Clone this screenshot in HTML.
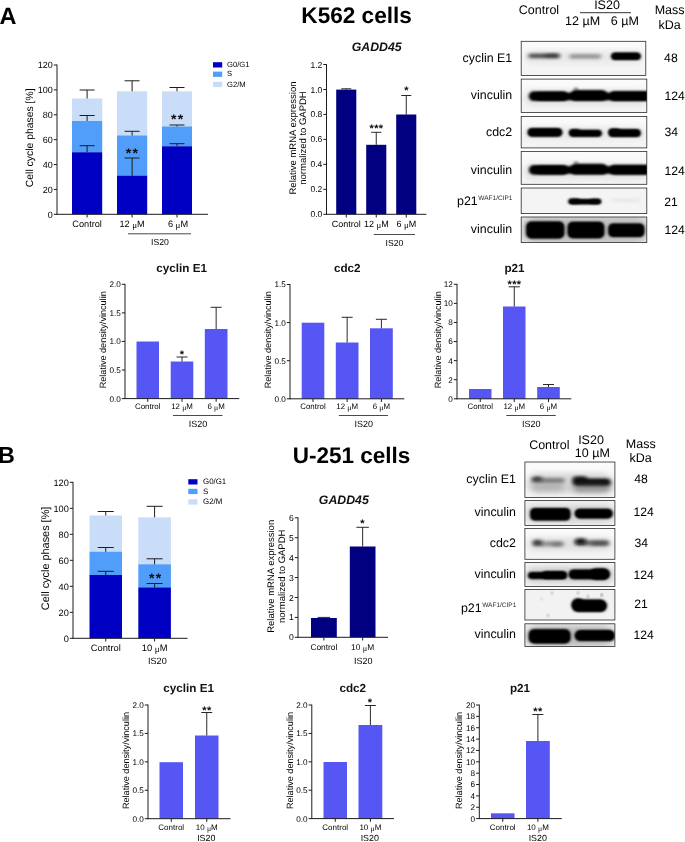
<!DOCTYPE html>
<html lang="en">
<head>
<meta charset="utf-8">
<title>IS20 cell cycle figure</title>
<style>html,body{margin:0;padding:0;background:#fff;overflow:hidden}svg{display:block;filter:blur(0.4px)}</style>
</head>
<body>
<svg width="685" height="842" viewBox="0 0 685 842" text-rendering="geometricPrecision" font-family='"Liberation Sans", Arial, sans-serif'>
<rect width="685" height="842" fill="#ffffff"/>
<defs>
<filter id="b1" x="-30%" y="-150%" width="160%" height="400%"><feGaussianBlur stdDeviation="1.6 1.3"/></filter>
<filter id="b2" x="-30%" y="-150%" width="160%" height="400%"><feGaussianBlur stdDeviation="2.2 1.7"/></filter>
<filter id="b3" x="-30%" y="-150%" width="160%" height="400%"><feGaussianBlur stdDeviation="3 2.6"/></filter>
<filter id="b0" x="-30%" y="-150%" width="160%" height="400%"><feGaussianBlur stdDeviation="1.1 0.9"/></filter>
<linearGradient id="bg" x1="0" y1="0" x2="0" y2="1"><stop offset="0" stop-color="#fbfbfb"/><stop offset="1" stop-color="#f3f3f3"/></linearGradient>
</defs>
<text x="-0.40" y="23.81" font-size="23.5" text-anchor="start" font-weight="bold" font-style="normal" fill="#000">A</text>
<text x="-2.00" y="463.24" font-size="23.3" text-anchor="start" font-weight="bold" font-style="normal" fill="#000">B</text>
<text x="356.60" y="23.19" font-size="22.6" text-anchor="middle" font-weight="bold" font-style="normal" fill="#000">K562 cells</text>
<text x="351.50" y="462.66" font-size="22.5" text-anchor="middle" font-weight="bold" font-style="normal" fill="#000">U-251 cells</text>
<rect x="72.00" y="98.50" width="30.20" height="22.80" fill="#c9ddf8"/>
<rect x="72.00" y="121.00" width="30.20" height="31.60" fill="#509dfa"/>
<rect x="72.00" y="152.30" width="30.20" height="62.00" fill="#0000c2"/>
<line x1="87.10" y1="152.30" x2="87.10" y2="145.70" stroke="#1c1c1c" stroke-width="1.0"/>
<line x1="79.60" y1="145.70" x2="94.60" y2="145.70" stroke="#1c1c1c" stroke-width="1.0"/>
<line x1="87.10" y1="121.00" x2="87.10" y2="115.50" stroke="#1c1c1c" stroke-width="1.0"/>
<line x1="79.60" y1="115.50" x2="94.60" y2="115.50" stroke="#1c1c1c" stroke-width="1.0"/>
<line x1="87.10" y1="98.50" x2="87.10" y2="90.00" stroke="#1c1c1c" stroke-width="1.0"/>
<line x1="79.60" y1="90.00" x2="94.60" y2="90.00" stroke="#1c1c1c" stroke-width="1.0"/>
<rect x="117.00" y="91.30" width="30.20" height="44.50" fill="#c9ddf8"/>
<rect x="117.00" y="135.50" width="30.20" height="40.60" fill="#509dfa"/>
<rect x="117.00" y="175.80" width="30.20" height="38.50" fill="#0000c2"/>
<line x1="132.10" y1="175.80" x2="132.10" y2="158.00" stroke="#1c1c1c" stroke-width="1.0"/>
<line x1="124.60" y1="158.00" x2="139.60" y2="158.00" stroke="#1c1c1c" stroke-width="1.0"/>
<line x1="132.10" y1="135.50" x2="132.10" y2="131.30" stroke="#1c1c1c" stroke-width="1.0"/>
<line x1="124.60" y1="131.30" x2="139.60" y2="131.30" stroke="#1c1c1c" stroke-width="1.0"/>
<line x1="132.10" y1="91.30" x2="132.10" y2="80.80" stroke="#1c1c1c" stroke-width="1.0"/>
<line x1="124.60" y1="80.80" x2="139.60" y2="80.80" stroke="#1c1c1c" stroke-width="1.0"/>
<rect x="162.00" y="91.30" width="30.00" height="35.50" fill="#c9ddf8"/>
<rect x="162.00" y="126.50" width="30.00" height="20.10" fill="#509dfa"/>
<rect x="162.00" y="146.30" width="30.00" height="68.00" fill="#0000c2"/>
<line x1="177.00" y1="146.30" x2="177.00" y2="143.70" stroke="#1c1c1c" stroke-width="1.0"/>
<line x1="169.50" y1="143.70" x2="184.50" y2="143.70" stroke="#1c1c1c" stroke-width="1.0"/>
<line x1="177.00" y1="126.50" x2="177.00" y2="125.00" stroke="#1c1c1c" stroke-width="1.0"/>
<line x1="169.50" y1="125.00" x2="184.50" y2="125.00" stroke="#1c1c1c" stroke-width="1.0"/>
<line x1="177.00" y1="91.30" x2="177.00" y2="87.50" stroke="#1c1c1c" stroke-width="1.0"/>
<line x1="169.50" y1="87.50" x2="184.50" y2="87.50" stroke="#1c1c1c" stroke-width="1.0"/>
<line x1="57.00" y1="64.60" x2="57.00" y2="214.70" stroke="#1c1c1c" stroke-width="1.0"/>
<line x1="56.60" y1="214.30" x2="208.00" y2="214.30" stroke="#1c1c1c" stroke-width="1.0"/>
<line x1="53.80" y1="214.30" x2="57.00" y2="214.30" stroke="#1c1c1c" stroke-width="1.0"/>
<text x="52.80" y="217.52" font-size="9.0" text-anchor="end" font-weight="normal" font-style="normal" fill="#000">0</text>
<line x1="53.80" y1="189.42" x2="57.00" y2="189.42" stroke="#1c1c1c" stroke-width="1.0"/>
<text x="52.80" y="192.64" font-size="9.0" text-anchor="end" font-weight="normal" font-style="normal" fill="#000">20</text>
<line x1="53.80" y1="164.53" x2="57.00" y2="164.53" stroke="#1c1c1c" stroke-width="1.0"/>
<text x="52.80" y="167.76" font-size="9.0" text-anchor="end" font-weight="normal" font-style="normal" fill="#000">40</text>
<line x1="53.80" y1="139.65" x2="57.00" y2="139.65" stroke="#1c1c1c" stroke-width="1.0"/>
<text x="52.80" y="142.87" font-size="9.0" text-anchor="end" font-weight="normal" font-style="normal" fill="#000">60</text>
<line x1="53.80" y1="114.77" x2="57.00" y2="114.77" stroke="#1c1c1c" stroke-width="1.0"/>
<text x="52.80" y="117.99" font-size="9.0" text-anchor="end" font-weight="normal" font-style="normal" fill="#000">80</text>
<line x1="53.80" y1="89.88" x2="57.00" y2="89.88" stroke="#1c1c1c" stroke-width="1.0"/>
<text x="52.80" y="93.11" font-size="9.0" text-anchor="end" font-weight="normal" font-style="normal" fill="#000">100</text>
<line x1="53.80" y1="65.00" x2="57.00" y2="65.00" stroke="#1c1c1c" stroke-width="1.0"/>
<text x="52.80" y="68.22" font-size="9.0" text-anchor="end" font-weight="normal" font-style="normal" fill="#000">120</text>
<line x1="87.10" y1="214.30" x2="87.10" y2="217.50" stroke="#1c1c1c" stroke-width="1.0"/>
<line x1="132.10" y1="214.30" x2="132.10" y2="217.50" stroke="#1c1c1c" stroke-width="1.0"/>
<line x1="177.00" y1="214.30" x2="177.00" y2="217.50" stroke="#1c1c1c" stroke-width="1.0"/>
<text transform="translate(29.40,137.80) rotate(-90)" x="0" y="3.72" font-size="10.4" text-anchor="middle" font-weight="normal" font-style="normal" fill="#000">Cell cycle phases [%]</text>
<text x="87.10" y="227.09" font-size="9.2" text-anchor="middle" font-weight="normal" font-style="normal" fill="#000">Control</text>
<text x="132.10" y="227.09" font-size="9.2" text-anchor="middle" font-weight="normal" font-style="normal" fill="#000">12 <tspan font-family='"Liberation Serif", "DejaVu Serif", serif' font-size="0.98em" dy="0.9">μ</tspan><tspan dy="-0.9">M</tspan></text>
<text x="178.00" y="227.09" font-size="9.2" text-anchor="middle" font-weight="normal" font-style="normal" fill="#000">6 <tspan font-family='"Liberation Serif", "DejaVu Serif", serif' font-size="0.98em" dy="0.9">μ</tspan><tspan dy="-0.9">M</tspan></text>
<line x1="128.00" y1="233.80" x2="191.00" y2="233.80" stroke="#1c1c1c" stroke-width="0.8"/>
<text x="160.00" y="245.11" font-size="8.7" text-anchor="middle" font-weight="normal" font-style="normal" fill="#000">IS20</text>
<text x="132.45" y="158.39" font-size="14" letter-spacing="1.3" text-anchor="middle" font-weight="bold" fill="#0a0a0a">**</text>
<text x="177.65" y="124.19" font-size="14" letter-spacing="1.3" text-anchor="middle" font-weight="bold" fill="#0a0a0a">**</text>
<rect x="213.00" y="62.20" width="9.20" height="5.30" fill="#0000c2"/>
<text x="227.00" y="66.97" font-size="7.6" text-anchor="start" font-weight="normal" font-style="normal" fill="#000">G0/G1</text>
<rect x="213.00" y="71.60" width="9.20" height="5.30" fill="#509dfa"/>
<text x="227.00" y="76.37" font-size="7.6" text-anchor="start" font-weight="normal" font-style="normal" fill="#000">S</text>
<rect x="213.00" y="81.80" width="9.20" height="5.30" fill="#c9ddf8"/>
<text x="227.00" y="86.57" font-size="7.6" text-anchor="start" font-weight="normal" font-style="normal" fill="#000">G2/M</text>
<rect x="336.20" y="89.60" width="20.10" height="124.70" fill="#000080"/>
<line x1="346.25" y1="89.60" x2="346.25" y2="88.80" stroke="#1e1e1e" stroke-width="0.95"/>
<line x1="341.25" y1="88.80" x2="351.25" y2="88.80" stroke="#1e1e1e" stroke-width="0.95"/>
<rect x="366.20" y="144.80" width="20.10" height="69.50" fill="#000080"/>
<line x1="376.25" y1="144.80" x2="376.25" y2="132.30" stroke="#1e1e1e" stroke-width="0.95"/>
<line x1="371.25" y1="132.30" x2="381.25" y2="132.30" stroke="#1e1e1e" stroke-width="0.95"/>
<rect x="396.20" y="114.50" width="20.10" height="99.80" fill="#000080"/>
<line x1="406.25" y1="114.50" x2="406.25" y2="95.50" stroke="#1e1e1e" stroke-width="0.95"/>
<line x1="401.25" y1="95.50" x2="411.25" y2="95.50" stroke="#1e1e1e" stroke-width="0.95"/>
<line x1="326.50" y1="64.10" x2="326.50" y2="214.70" stroke="#1c1c1c" stroke-width="1.0"/>
<line x1="326.10" y1="214.30" x2="426.30" y2="214.30" stroke="#1c1c1c" stroke-width="1.0"/>
<line x1="323.30" y1="214.30" x2="326.50" y2="214.30" stroke="#1c1c1c" stroke-width="1.0"/>
<text x="322.30" y="217.34" font-size="8.5" text-anchor="end" font-weight="normal" font-style="normal" fill="#000">0.0</text>
<line x1="323.30" y1="189.33" x2="326.50" y2="189.33" stroke="#1c1c1c" stroke-width="1.0"/>
<text x="322.30" y="192.38" font-size="8.5" text-anchor="end" font-weight="normal" font-style="normal" fill="#000">0.2</text>
<line x1="323.30" y1="164.37" x2="326.50" y2="164.37" stroke="#1c1c1c" stroke-width="1.0"/>
<text x="322.30" y="167.41" font-size="8.5" text-anchor="end" font-weight="normal" font-style="normal" fill="#000">0.4</text>
<line x1="323.30" y1="139.40" x2="326.50" y2="139.40" stroke="#1c1c1c" stroke-width="1.0"/>
<text x="322.30" y="142.44" font-size="8.5" text-anchor="end" font-weight="normal" font-style="normal" fill="#000">0.6</text>
<line x1="323.30" y1="114.43" x2="326.50" y2="114.43" stroke="#1c1c1c" stroke-width="1.0"/>
<text x="322.30" y="117.48" font-size="8.5" text-anchor="end" font-weight="normal" font-style="normal" fill="#000">0.8</text>
<line x1="323.30" y1="89.47" x2="326.50" y2="89.47" stroke="#1c1c1c" stroke-width="1.0"/>
<text x="322.30" y="92.51" font-size="8.5" text-anchor="end" font-weight="normal" font-style="normal" fill="#000">1.0</text>
<line x1="323.30" y1="64.50" x2="326.50" y2="64.50" stroke="#1c1c1c" stroke-width="1.0"/>
<text x="322.30" y="67.54" font-size="8.5" text-anchor="end" font-weight="normal" font-style="normal" fill="#000">1.2</text>
<line x1="346.25" y1="214.30" x2="346.25" y2="217.50" stroke="#1c1c1c" stroke-width="1.0"/>
<line x1="376.25" y1="214.30" x2="376.25" y2="217.50" stroke="#1c1c1c" stroke-width="1.0"/>
<line x1="406.25" y1="214.30" x2="406.25" y2="217.50" stroke="#1c1c1c" stroke-width="1.0"/>
<text x="376.70" y="51.40" font-size="12.3" text-anchor="middle" font-weight="bold" font-style="italic" fill="#111">GADD45</text>
<text transform="translate(292.30,138.00) rotate(-90)" x="0" y="3.40" font-size="9.5" text-anchor="middle" font-weight="normal" font-style="normal" fill="#000">Relative mRNA expression</text>
<text transform="translate(303.00,138.00) rotate(-90)" x="0" y="3.40" font-size="9.5" text-anchor="middle" font-weight="normal" font-style="normal" fill="#000">normalized to GAPDH</text>
<text x="346.25" y="227.02" font-size="9" text-anchor="middle" font-weight="normal" font-style="normal" fill="#000">Control</text>
<text x="376.25" y="227.02" font-size="9" text-anchor="middle" font-weight="normal" font-style="normal" fill="#000">12 <tspan font-family='"Liberation Serif", "DejaVu Serif", serif' font-size="0.98em" dy="0.9">μ</tspan><tspan dy="-0.9">M</tspan></text>
<text x="406.25" y="227.02" font-size="9" text-anchor="middle" font-weight="normal" font-style="normal" fill="#000">6 <tspan font-family='"Liberation Serif", "DejaVu Serif", serif' font-size="0.98em" dy="0.9">μ</tspan><tspan dy="-0.9">M</tspan></text>
<line x1="373.80" y1="234.50" x2="415.00" y2="234.50" stroke="#1c1c1c" stroke-width="0.8"/>
<text x="394.50" y="245.61" font-size="8.7" text-anchor="middle" font-weight="normal" font-style="normal" fill="#000">IS20</text>
<text x="376.50" y="131.84" font-size="11" letter-spacing="0.4" text-anchor="middle" font-weight="bold" fill="#0a0a0a">***</text>
<text x="406.30" y="94.03" font-size="11" letter-spacing="0" text-anchor="middle" font-weight="bold" fill="#0a0a0a">*</text>
<rect x="136.50" y="341.50" width="22.50" height="57.10" fill="#5656f4"/>
<rect x="170.70" y="361.50" width="22.60" height="37.10" fill="#5656f4"/>
<line x1="182.00" y1="361.50" x2="182.00" y2="357.00" stroke="#1e1e1e" stroke-width="0.95"/>
<line x1="176.50" y1="357.00" x2="187.50" y2="357.00" stroke="#1e1e1e" stroke-width="0.95"/>
<rect x="204.80" y="329.00" width="22.70" height="69.60" fill="#5656f4"/>
<line x1="216.15" y1="329.00" x2="216.15" y2="307.30" stroke="#1e1e1e" stroke-width="0.95"/>
<line x1="210.65" y1="307.30" x2="221.65" y2="307.30" stroke="#1e1e1e" stroke-width="0.95"/>
<line x1="125.00" y1="283.90" x2="125.00" y2="399.00" stroke="#1c1c1c" stroke-width="1.0"/>
<line x1="124.60" y1="398.60" x2="239.30" y2="398.60" stroke="#1c1c1c" stroke-width="1.0"/>
<line x1="121.80" y1="398.60" x2="125.00" y2="398.60" stroke="#1c1c1c" stroke-width="1.0"/>
<text x="120.80" y="401.54" font-size="8.2" text-anchor="end" font-weight="normal" font-style="normal" fill="#000">0.0</text>
<line x1="121.80" y1="370.03" x2="125.00" y2="370.03" stroke="#1c1c1c" stroke-width="1.0"/>
<text x="120.80" y="372.96" font-size="8.2" text-anchor="end" font-weight="normal" font-style="normal" fill="#000">0.5</text>
<line x1="121.80" y1="341.45" x2="125.00" y2="341.45" stroke="#1c1c1c" stroke-width="1.0"/>
<text x="120.80" y="344.39" font-size="8.2" text-anchor="end" font-weight="normal" font-style="normal" fill="#000">1.0</text>
<line x1="121.80" y1="312.88" x2="125.00" y2="312.88" stroke="#1c1c1c" stroke-width="1.0"/>
<text x="120.80" y="315.81" font-size="8.2" text-anchor="end" font-weight="normal" font-style="normal" fill="#000">1.5</text>
<line x1="121.80" y1="284.30" x2="125.00" y2="284.30" stroke="#1c1c1c" stroke-width="1.0"/>
<text x="120.80" y="287.24" font-size="8.2" text-anchor="end" font-weight="normal" font-style="normal" fill="#000">2.0</text>
<line x1="147.75" y1="398.60" x2="147.75" y2="401.80" stroke="#1c1c1c" stroke-width="1.0"/>
<line x1="182.00" y1="398.60" x2="182.00" y2="401.80" stroke="#1c1c1c" stroke-width="1.0"/>
<line x1="216.15" y1="398.60" x2="216.15" y2="401.80" stroke="#1c1c1c" stroke-width="1.0"/>
<text x="181.70" y="271.79" font-size="11.7" text-anchor="middle" font-weight="bold" font-style="normal" fill="#111">cyclin E1</text>
<text transform="translate(103.00,339.80) rotate(-90)" x="0" y="3.26" font-size="9.1" text-anchor="middle" font-weight="normal" font-style="normal" fill="#000">Relative density/vinculin</text>
<text x="147.75" y="409.23" font-size="7.9" text-anchor="middle" font-weight="normal" font-style="normal" fill="#000">Control</text>
<text x="182.00" y="409.23" font-size="7.9" text-anchor="middle" font-weight="normal" font-style="normal" fill="#000">12 <tspan font-family='"Liberation Serif", "DejaVu Serif", serif' font-size="0.98em" dy="0.9">μ</tspan><tspan dy="-0.9">M</tspan></text>
<text x="216.15" y="409.23" font-size="7.9" text-anchor="middle" font-weight="normal" font-style="normal" fill="#000">6 <tspan font-family='"Liberation Serif", "DejaVu Serif", serif' font-size="0.98em" dy="0.9">μ</tspan><tspan dy="-0.9">M</tspan></text>
<line x1="173.00" y1="415.50" x2="222.50" y2="415.50" stroke="#1c1c1c" stroke-width="0.8"/>
<text x="198.00" y="427.02" font-size="9" text-anchor="middle" font-weight="normal" font-style="normal" fill="#000">IS20</text>
<text x="182.00" y="357.74" font-size="11" letter-spacing="0" text-anchor="middle" font-weight="bold" fill="#0a0a0a">*</text>
<rect x="301.70" y="322.70" width="22.60" height="76.10" fill="#5656f4"/>
<rect x="335.80" y="342.50" width="22.70" height="56.30" fill="#5656f4"/>
<line x1="347.15" y1="342.50" x2="347.15" y2="317.30" stroke="#1e1e1e" stroke-width="0.95"/>
<line x1="341.65" y1="317.30" x2="352.65" y2="317.30" stroke="#1e1e1e" stroke-width="0.95"/>
<rect x="370.00" y="328.30" width="22.80" height="70.50" fill="#5656f4"/>
<line x1="381.40" y1="328.30" x2="381.40" y2="319.30" stroke="#1e1e1e" stroke-width="0.95"/>
<line x1="375.90" y1="319.30" x2="386.90" y2="319.30" stroke="#1e1e1e" stroke-width="0.95"/>
<line x1="290.00" y1="284.10" x2="290.00" y2="399.20" stroke="#1c1c1c" stroke-width="1.0"/>
<line x1="289.60" y1="398.80" x2="404.30" y2="398.80" stroke="#1c1c1c" stroke-width="1.0"/>
<line x1="286.80" y1="398.80" x2="290.00" y2="398.80" stroke="#1c1c1c" stroke-width="1.0"/>
<text x="285.80" y="401.74" font-size="8.2" text-anchor="end" font-weight="normal" font-style="normal" fill="#000">0.0</text>
<line x1="286.80" y1="360.70" x2="290.00" y2="360.70" stroke="#1c1c1c" stroke-width="1.0"/>
<text x="285.80" y="363.64" font-size="8.2" text-anchor="end" font-weight="normal" font-style="normal" fill="#000">0.5</text>
<line x1="286.80" y1="322.60" x2="290.00" y2="322.60" stroke="#1c1c1c" stroke-width="1.0"/>
<text x="285.80" y="325.54" font-size="8.2" text-anchor="end" font-weight="normal" font-style="normal" fill="#000">1.0</text>
<line x1="286.80" y1="284.50" x2="290.00" y2="284.50" stroke="#1c1c1c" stroke-width="1.0"/>
<text x="285.80" y="287.44" font-size="8.2" text-anchor="end" font-weight="normal" font-style="normal" fill="#000">1.5</text>
<line x1="313.00" y1="398.80" x2="313.00" y2="402.00" stroke="#1c1c1c" stroke-width="1.0"/>
<line x1="347.15" y1="398.80" x2="347.15" y2="402.00" stroke="#1c1c1c" stroke-width="1.0"/>
<line x1="381.40" y1="398.80" x2="381.40" y2="402.00" stroke="#1c1c1c" stroke-width="1.0"/>
<text x="347.20" y="271.79" font-size="11.7" text-anchor="middle" font-weight="bold" font-style="normal" fill="#111">cdc2</text>
<text transform="translate(268.00,339.80) rotate(-90)" x="0" y="3.26" font-size="9.1" text-anchor="middle" font-weight="normal" font-style="normal" fill="#000">Relative density/vinculin</text>
<text x="313.00" y="409.23" font-size="7.9" text-anchor="middle" font-weight="normal" font-style="normal" fill="#000">Control</text>
<text x="347.15" y="409.23" font-size="7.9" text-anchor="middle" font-weight="normal" font-style="normal" fill="#000">12 <tspan font-family='"Liberation Serif", "DejaVu Serif", serif' font-size="0.98em" dy="0.9">μ</tspan><tspan dy="-0.9">M</tspan></text>
<text x="381.40" y="409.23" font-size="7.9" text-anchor="middle" font-weight="normal" font-style="normal" fill="#000">6 <tspan font-family='"Liberation Serif", "DejaVu Serif", serif' font-size="0.98em" dy="0.9">μ</tspan><tspan dy="-0.9">M</tspan></text>
<line x1="338.80" y1="415.50" x2="388.00" y2="415.50" stroke="#1c1c1c" stroke-width="0.8"/>
<text x="363.80" y="427.02" font-size="9" text-anchor="middle" font-weight="normal" font-style="normal" fill="#000">IS20</text>
<rect x="469.00" y="389.00" width="22.50" height="9.80" fill="#5656f4"/>
<rect x="503.00" y="306.50" width="22.50" height="92.30" fill="#5656f4"/>
<line x1="514.25" y1="306.50" x2="514.25" y2="286.80" stroke="#1e1e1e" stroke-width="0.95"/>
<line x1="508.75" y1="286.80" x2="519.75" y2="286.80" stroke="#1e1e1e" stroke-width="0.95"/>
<rect x="537.20" y="387.00" width="22.60" height="11.80" fill="#5656f4"/>
<line x1="548.50" y1="387.00" x2="548.50" y2="384.50" stroke="#1e1e1e" stroke-width="0.95"/>
<line x1="543.00" y1="384.50" x2="554.00" y2="384.50" stroke="#1e1e1e" stroke-width="0.95"/>
<line x1="457.00" y1="283.90" x2="457.00" y2="399.20" stroke="#1c1c1c" stroke-width="1.0"/>
<line x1="456.60" y1="398.80" x2="571.30" y2="398.80" stroke="#1c1c1c" stroke-width="1.0"/>
<line x1="453.80" y1="398.80" x2="457.00" y2="398.80" stroke="#1c1c1c" stroke-width="1.0"/>
<text x="452.80" y="401.74" font-size="8.2" text-anchor="end" font-weight="normal" font-style="normal" fill="#000">0</text>
<line x1="453.80" y1="379.72" x2="457.00" y2="379.72" stroke="#1c1c1c" stroke-width="1.0"/>
<text x="452.80" y="382.65" font-size="8.2" text-anchor="end" font-weight="normal" font-style="normal" fill="#000">2</text>
<line x1="453.80" y1="360.63" x2="457.00" y2="360.63" stroke="#1c1c1c" stroke-width="1.0"/>
<text x="452.80" y="363.57" font-size="8.2" text-anchor="end" font-weight="normal" font-style="normal" fill="#000">4</text>
<line x1="453.80" y1="341.55" x2="457.00" y2="341.55" stroke="#1c1c1c" stroke-width="1.0"/>
<text x="452.80" y="344.49" font-size="8.2" text-anchor="end" font-weight="normal" font-style="normal" fill="#000">6</text>
<line x1="453.80" y1="322.47" x2="457.00" y2="322.47" stroke="#1c1c1c" stroke-width="1.0"/>
<text x="452.80" y="325.40" font-size="8.2" text-anchor="end" font-weight="normal" font-style="normal" fill="#000">8</text>
<line x1="453.80" y1="303.38" x2="457.00" y2="303.38" stroke="#1c1c1c" stroke-width="1.0"/>
<text x="452.80" y="306.32" font-size="8.2" text-anchor="end" font-weight="normal" font-style="normal" fill="#000">10</text>
<line x1="453.80" y1="284.30" x2="457.00" y2="284.30" stroke="#1c1c1c" stroke-width="1.0"/>
<text x="452.80" y="287.24" font-size="8.2" text-anchor="end" font-weight="normal" font-style="normal" fill="#000">12</text>
<line x1="480.25" y1="398.80" x2="480.25" y2="402.00" stroke="#1c1c1c" stroke-width="1.0"/>
<line x1="514.25" y1="398.80" x2="514.25" y2="402.00" stroke="#1c1c1c" stroke-width="1.0"/>
<line x1="548.50" y1="398.80" x2="548.50" y2="402.00" stroke="#1c1c1c" stroke-width="1.0"/>
<text x="514.50" y="271.79" font-size="11.7" text-anchor="middle" font-weight="bold" font-style="normal" fill="#111">p21</text>
<text transform="translate(437.50,339.80) rotate(-90)" x="0" y="3.26" font-size="9.1" text-anchor="middle" font-weight="normal" font-style="normal" fill="#000">Relative density/vinculin</text>
<text x="480.25" y="409.23" font-size="7.9" text-anchor="middle" font-weight="normal" font-style="normal" fill="#000">Control</text>
<text x="514.25" y="409.23" font-size="7.9" text-anchor="middle" font-weight="normal" font-style="normal" fill="#000">12 <tspan font-family='"Liberation Serif", "DejaVu Serif", serif' font-size="0.98em" dy="0.9">μ</tspan><tspan dy="-0.9">M</tspan></text>
<text x="548.50" y="409.23" font-size="7.9" text-anchor="middle" font-weight="normal" font-style="normal" fill="#000">6 <tspan font-family='"Liberation Serif", "DejaVu Serif", serif' font-size="0.98em" dy="0.9">μ</tspan><tspan dy="-0.9">M</tspan></text>
<line x1="506.30" y1="415.50" x2="555.80" y2="415.50" stroke="#1c1c1c" stroke-width="0.8"/>
<text x="531.30" y="427.02" font-size="9" text-anchor="middle" font-weight="normal" font-style="normal" fill="#000">IS20</text>
<text x="514.50" y="288.44" font-size="11" letter-spacing="0.4" text-anchor="middle" font-weight="bold" fill="#0a0a0a">***</text>
<text x="539.00" y="14.38" font-size="12.5" text-anchor="middle" font-weight="normal" font-style="normal" fill="#000">Control</text>
<text x="607.00" y="8.77" font-size="12.5" text-anchor="middle" font-weight="normal" font-style="normal" fill="#000">IS20</text>
<line x1="580.00" y1="12.70" x2="631.00" y2="12.70" stroke="#1c1c1c" stroke-width="0.9"/>
<text x="582.60" y="25.38" font-size="12.5" text-anchor="middle" font-weight="normal" font-style="normal" fill="#000">12 µM</text>
<text x="624.80" y="25.38" font-size="12.5" text-anchor="middle" font-weight="normal" font-style="normal" fill="#000">6 µM</text>
<text x="669.60" y="14.38" font-size="12.5" text-anchor="middle" font-weight="normal" font-style="normal" fill="#000">Mass</text>
<text x="669.50" y="28.58" font-size="12.5" text-anchor="middle" font-weight="normal" font-style="normal" fill="#000">kDa</text>
<clipPath id="c1"><rect x="521.20" y="41.30" width="124.60" height="34.20"/></clipPath>
<rect x="521.20" y="41.30" width="124.60" height="34.20" fill="url(#bg)"/>
<g clip-path="url(#c1)">
<rect x="524.00" y="50.00" width="120.00" height="14.00" rx="7.00" fill="#bbb" opacity="0.22" filter="url(#b3)"/>
<rect x="528.30" y="53.50" width="31.50" height="4.80" rx="2.40" fill="#2a2a2a" opacity="0.8" filter="url(#b2)"/>
<rect x="545.00" y="53.80" width="14.00" height="3.60" rx="1.80" fill="#111" opacity="0.4" filter="url(#b2)"/>
<rect x="569.30" y="54.10" width="31.90" height="4.60" rx="2.30" fill="#444" opacity="0.5" filter="url(#b2)"/>
<rect x="611.20" y="52.50" width="29.40" height="7.60" rx="3.80" fill="#000" opacity="1" filter="url(#b1)"/>
<rect x="612.00" y="53.50" width="28.00" height="5.60" rx="2.80" fill="#000" opacity="1" filter="url(#b0)"/>
</g>
<rect x="521.20" y="41.30" width="124.60" height="34.20" fill="none" stroke="#2a2a2a" stroke-width="0.8"/>
<clipPath id="c2"><rect x="521.20" y="79.10" width="125.60" height="33.30"/></clipPath>
<rect x="521.20" y="79.10" width="125.60" height="33.30" fill="url(#bg)"/>
<g clip-path="url(#c2)">
<rect x="524.00" y="89.60" width="123.00" height="16.00" rx="8.00" fill="#aaa" opacity="0.25" filter="url(#b3)"/>
<rect x="536.00" y="92.65" width="114.00" height="7.50" rx="3.75" fill="#000" opacity="1" filter="url(#b1)"/>
<rect x="528.80" y="91.30" width="39.40" height="9.80" rx="4.90" fill="#000" opacity="1" filter="url(#b1)"/>
<rect x="570.20" y="90.00" width="37.30" height="10.80" rx="5.40" fill="#000" opacity="1" filter="url(#b1)"/>
<rect x="609.30" y="91.10" width="42.70" height="10.00" rx="5.00" fill="#000" opacity="1" filter="url(#b1)"/>
<rect x="574.00" y="87.60" width="4.00" height="3.00" rx="1.50" fill="#000" opacity="0.5" filter="url(#b1)"/>
</g>
<rect x="521.20" y="79.10" width="125.60" height="33.30" fill="none" stroke="#2a2a2a" stroke-width="0.8"/>
<clipPath id="c3"><rect x="521.20" y="116.50" width="125.60" height="31.40"/></clipPath>
<rect x="521.20" y="116.50" width="125.60" height="31.40" fill="url(#bg)"/>
<g clip-path="url(#c3)">
<rect x="524.00" y="126.50" width="121.00" height="13.00" rx="6.50" fill="#bbb" opacity="0.2" filter="url(#b3)"/>
<rect x="527.60" y="128.00" width="34.70" height="8.80" rx="4.40" fill="#000" opacity="1" filter="url(#b1)"/>
<rect x="528.60" y="129.10" width="32.70" height="6.60" rx="3.30" fill="#000" opacity="1" filter="url(#b0)"/>
<rect x="569.20" y="129.80" width="32.60" height="7.00" rx="3.50" fill="#000" opacity="1" filter="url(#b1)"/>
<rect x="570.20" y="131.10" width="30.60" height="4.80" rx="2.40" fill="#000" opacity="1" filter="url(#b0)"/>
<rect x="569.50" y="129.05" width="10.50" height="5.50" rx="2.75" fill="#000" opacity="0.9" filter="url(#b1)"/>
<rect x="608.60" y="129.00" width="32.10" height="8.00" rx="4.00" fill="#000" opacity="1" filter="url(#b1)"/>
<rect x="609.60" y="130.30" width="30.10" height="5.80" rx="2.90" fill="#000" opacity="1" filter="url(#b0)"/>
<rect x="609.00" y="128.60" width="11.00" height="6.00" rx="3.00" fill="#000" opacity="0.9" filter="url(#b1)"/>
</g>
<rect x="521.20" y="116.50" width="125.60" height="31.40" fill="none" stroke="#2a2a2a" stroke-width="0.8"/>
<clipPath id="c4"><rect x="521.20" y="151.40" width="125.60" height="32.90"/></clipPath>
<rect x="521.20" y="151.40" width="125.60" height="32.90" fill="url(#bg)"/>
<g clip-path="url(#c4)">
<rect x="524.00" y="163.30" width="123.00" height="16.00" rx="8.00" fill="#aaa" opacity="0.25" filter="url(#b3)"/>
<rect x="536.00" y="166.35" width="114.00" height="7.50" rx="3.75" fill="#000" opacity="1" filter="url(#b1)"/>
<rect x="528.80" y="165.00" width="39.40" height="9.80" rx="4.90" fill="#000" opacity="1" filter="url(#b1)"/>
<rect x="570.20" y="163.70" width="37.30" height="10.80" rx="5.40" fill="#000" opacity="1" filter="url(#b1)"/>
<rect x="609.30" y="164.80" width="42.70" height="10.00" rx="5.00" fill="#000" opacity="1" filter="url(#b1)"/>
<rect x="574.00" y="161.30" width="4.00" height="3.00" rx="1.50" fill="#000" opacity="0.5" filter="url(#b1)"/>
</g>
<rect x="521.20" y="151.40" width="125.60" height="32.90" fill="none" stroke="#2a2a2a" stroke-width="0.8"/>
<clipPath id="c5"><rect x="521.20" y="188.00" width="125.60" height="25.60"/></clipPath>
<rect x="521.20" y="188.00" width="125.60" height="25.60" fill="#f4f4f4"/>
<g clip-path="url(#c5)">
<rect x="568.50" y="199.00" width="32.50" height="5.20" rx="2.60" fill="#000" opacity="1" filter="url(#b1)"/>
<rect x="570.00" y="200.00" width="30.00" height="3.40" rx="1.70" fill="#000" opacity="1" filter="url(#b0)"/>
<rect x="569.00" y="198.25" width="11.00" height="5.50" rx="2.75" fill="#000" opacity="0.7" filter="url(#b1)"/>
<rect x="590.00" y="198.45" width="10.50" height="5.50" rx="2.75" fill="#000" opacity="0.6" filter="url(#b1)"/>
<rect x="612.00" y="198.80" width="28.00" height="3.00" rx="1.50" fill="#888" opacity="0.12" filter="url(#b2)"/>
</g>
<rect x="521.20" y="188.00" width="125.60" height="25.60" fill="none" stroke="#2a2a2a" stroke-width="0.8"/>
<clipPath id="c6"><rect x="521.20" y="217.00" width="125.60" height="25.60"/></clipPath>
<rect x="521.20" y="217.00" width="125.60" height="25.60" fill="#e4e4e4"/>
<g clip-path="url(#c6)">
<rect x="522.00" y="217.00" width="126.00" height="26.00" rx="13.00" fill="#555" opacity="0.24" filter="url(#b3)"/>
<rect x="526.20" y="221.50" width="38.10" height="17.00" rx="5.00" fill="#000" opacity="1" filter="url(#b1)"/>
<rect x="527.20" y="222.50" width="36.10" height="15.00" rx="4.50" fill="#000" opacity="1" filter="url(#b0)"/>
<rect x="567.60" y="221.75" width="36.70" height="16.50" rx="5.00" fill="#000" opacity="1" filter="url(#b1)"/>
<rect x="568.60" y="222.75" width="34.70" height="14.50" rx="4.50" fill="#000" opacity="1" filter="url(#b0)"/>
<rect x="608.30" y="223.45" width="36.00" height="13.50" rx="4.50" fill="#000" opacity="1" filter="url(#b1)"/>
<rect x="609.30" y="224.45" width="34.00" height="11.50" rx="4.00" fill="#000" opacity="1" filter="url(#b0)"/>
</g>
<rect x="521.20" y="217.00" width="125.60" height="25.60" fill="none" stroke="#2a2a2a" stroke-width="0.8"/>
<text x="512.20" y="61.54" font-size="12.4" text-anchor="end" font-weight="normal" font-style="normal" fill="#000">cyclin E1</text>
<text x="512.20" y="99.04" font-size="12.4" text-anchor="end" font-weight="normal" font-style="normal" fill="#000">vinculin</text>
<text x="512.20" y="135.74" font-size="12.4" text-anchor="end" font-weight="normal" font-style="normal" fill="#000">cdc2</text>
<text x="512.20" y="174.04" font-size="12.4" text-anchor="end" font-weight="normal" font-style="normal" fill="#000">vinculin</text>
<text x="512.20" y="233.34" font-size="12.4" text-anchor="end" font-weight="normal" font-style="normal" fill="#000">vinculin</text>
<text x="512.4" y="205.34" font-size="12.4" text-anchor="end" fill="#000">p21<tspan font-size="6.5" dy="-4.9" dx="0.6" fill="#2a2a2a">WAF1/CIP1</tspan></text>
<text x="670.90" y="62.37" font-size="12.2" text-anchor="middle" font-weight="normal" font-style="normal" fill="#000">48</text>
<text x="674.60" y="99.57" font-size="12.2" text-anchor="middle" font-weight="normal" font-style="normal" fill="#000">124</text>
<text x="671.20" y="136.17" font-size="12.2" text-anchor="middle" font-weight="normal" font-style="normal" fill="#000">34</text>
<text x="674.60" y="174.87" font-size="12.2" text-anchor="middle" font-weight="normal" font-style="normal" fill="#000">124</text>
<text x="671.00" y="206.37" font-size="12.2" text-anchor="middle" font-weight="normal" font-style="normal" fill="#000">21</text>
<text x="674.60" y="233.97" font-size="12.2" text-anchor="middle" font-weight="normal" font-style="normal" fill="#000">124</text>
<rect x="89.50" y="515.50" width="32.50" height="36.60" fill="#c9ddf8"/>
<rect x="89.50" y="551.80" width="32.50" height="23.50" fill="#509dfa"/>
<rect x="89.50" y="575.00" width="32.50" height="63.30" fill="#0000c2"/>
<line x1="105.75" y1="575.00" x2="105.75" y2="571.30" stroke="#1c1c1c" stroke-width="1.0"/>
<line x1="97.75" y1="571.30" x2="113.75" y2="571.30" stroke="#1c1c1c" stroke-width="1.0"/>
<line x1="105.75" y1="551.80" x2="105.75" y2="547.50" stroke="#1c1c1c" stroke-width="1.0"/>
<line x1="97.75" y1="547.50" x2="113.75" y2="547.50" stroke="#1c1c1c" stroke-width="1.0"/>
<line x1="105.75" y1="515.50" x2="105.75" y2="511.50" stroke="#1c1c1c" stroke-width="1.0"/>
<line x1="97.75" y1="511.50" x2="113.75" y2="511.50" stroke="#1c1c1c" stroke-width="1.0"/>
<rect x="138.30" y="517.30" width="32.60" height="47.30" fill="#c9ddf8"/>
<rect x="138.30" y="564.30" width="32.60" height="23.50" fill="#509dfa"/>
<rect x="138.30" y="587.50" width="32.60" height="50.80" fill="#0000c2"/>
<line x1="154.60" y1="587.50" x2="154.60" y2="583.50" stroke="#1c1c1c" stroke-width="1.0"/>
<line x1="146.60" y1="583.50" x2="162.60" y2="583.50" stroke="#1c1c1c" stroke-width="1.0"/>
<line x1="154.60" y1="564.30" x2="154.60" y2="558.80" stroke="#1c1c1c" stroke-width="1.0"/>
<line x1="146.60" y1="558.80" x2="162.60" y2="558.80" stroke="#1c1c1c" stroke-width="1.0"/>
<line x1="154.60" y1="517.30" x2="154.60" y2="506.30" stroke="#1c1c1c" stroke-width="1.0"/>
<line x1="146.60" y1="506.30" x2="162.60" y2="506.30" stroke="#1c1c1c" stroke-width="1.0"/>
<line x1="73.00" y1="481.90" x2="73.00" y2="638.70" stroke="#1c1c1c" stroke-width="1.0"/>
<line x1="72.60" y1="638.30" x2="187.50" y2="638.30" stroke="#1c1c1c" stroke-width="1.0"/>
<line x1="69.80" y1="638.30" x2="73.00" y2="638.30" stroke="#1c1c1c" stroke-width="1.0"/>
<text x="68.80" y="641.59" font-size="9.2" text-anchor="end" font-weight="normal" font-style="normal" fill="#000">0</text>
<line x1="69.80" y1="612.30" x2="73.00" y2="612.30" stroke="#1c1c1c" stroke-width="1.0"/>
<text x="68.80" y="615.59" font-size="9.2" text-anchor="end" font-weight="normal" font-style="normal" fill="#000">20</text>
<line x1="69.80" y1="586.30" x2="73.00" y2="586.30" stroke="#1c1c1c" stroke-width="1.0"/>
<text x="68.80" y="589.59" font-size="9.2" text-anchor="end" font-weight="normal" font-style="normal" fill="#000">40</text>
<line x1="69.80" y1="560.30" x2="73.00" y2="560.30" stroke="#1c1c1c" stroke-width="1.0"/>
<text x="68.80" y="563.59" font-size="9.2" text-anchor="end" font-weight="normal" font-style="normal" fill="#000">60</text>
<line x1="69.80" y1="534.30" x2="73.00" y2="534.30" stroke="#1c1c1c" stroke-width="1.0"/>
<text x="68.80" y="537.59" font-size="9.2" text-anchor="end" font-weight="normal" font-style="normal" fill="#000">80</text>
<line x1="69.80" y1="508.30" x2="73.00" y2="508.30" stroke="#1c1c1c" stroke-width="1.0"/>
<text x="68.80" y="511.59" font-size="9.2" text-anchor="end" font-weight="normal" font-style="normal" fill="#000">100</text>
<line x1="69.80" y1="482.30" x2="73.00" y2="482.30" stroke="#1c1c1c" stroke-width="1.0"/>
<text x="68.80" y="485.59" font-size="9.2" text-anchor="end" font-weight="normal" font-style="normal" fill="#000">120</text>
<line x1="105.75" y1="638.30" x2="105.75" y2="641.50" stroke="#1c1c1c" stroke-width="1.0"/>
<line x1="154.60" y1="638.30" x2="154.60" y2="641.50" stroke="#1c1c1c" stroke-width="1.0"/>
<text transform="translate(44.90,558.40) rotate(-90)" x="0" y="3.90" font-size="10.9" text-anchor="middle" font-weight="normal" font-style="normal" fill="#000">Cell cycle phases [%]</text>
<text x="105.75" y="651.43" font-size="9.3" text-anchor="middle" font-weight="normal" font-style="normal" fill="#000">Control</text>
<text x="154.60" y="651.43" font-size="9.3" text-anchor="middle" font-weight="normal" font-style="normal" fill="#000">10 <tspan font-family='"Liberation Serif", "DejaVu Serif", serif' font-size="0.98em" dy="0.9">μ</tspan><tspan dy="-0.9">M</tspan></text>
<text x="157.40" y="663.86" font-size="9.1" text-anchor="middle" font-weight="normal" font-style="normal" fill="#000">IS20</text>
<text x="155.65" y="583.39" font-size="14" letter-spacing="1.3" text-anchor="middle" font-weight="bold" fill="#0a0a0a">**</text>
<rect x="188.30" y="479.20" width="9.20" height="5.30" fill="#0000c2"/>
<text x="203.00" y="484.28" font-size="7.9" text-anchor="start" font-weight="normal" font-style="normal" fill="#000">G0/G1</text>
<rect x="188.30" y="488.80" width="9.20" height="5.30" fill="#509dfa"/>
<text x="203.00" y="493.88" font-size="7.9" text-anchor="start" font-weight="normal" font-style="normal" fill="#000">S</text>
<rect x="188.30" y="499.30" width="9.20" height="5.30" fill="#c9ddf8"/>
<text x="203.00" y="504.38" font-size="7.9" text-anchor="start" font-weight="normal" font-style="normal" fill="#000">G2/M</text>
<rect x="311.00" y="618.00" width="25.80" height="19.30" fill="#000080"/>
<line x1="323.90" y1="618.00" x2="323.90" y2="617.40" stroke="#1e1e1e" stroke-width="0.95"/>
<line x1="317.65" y1="617.40" x2="330.15" y2="617.40" stroke="#1e1e1e" stroke-width="0.95"/>
<rect x="349.80" y="546.50" width="25.70" height="90.80" fill="#000080"/>
<line x1="362.65" y1="546.50" x2="362.65" y2="527.30" stroke="#1e1e1e" stroke-width="0.95"/>
<line x1="356.40" y1="527.30" x2="368.90" y2="527.30" stroke="#1e1e1e" stroke-width="0.95"/>
<line x1="298.00" y1="517.40" x2="298.00" y2="637.70" stroke="#1c1c1c" stroke-width="1.0"/>
<line x1="297.60" y1="637.30" x2="388.00" y2="637.30" stroke="#1c1c1c" stroke-width="1.0"/>
<line x1="294.80" y1="637.30" x2="298.00" y2="637.30" stroke="#1c1c1c" stroke-width="1.0"/>
<text x="293.80" y="640.38" font-size="8.6" text-anchor="end" font-weight="normal" font-style="normal" fill="#000">0</text>
<line x1="294.80" y1="617.38" x2="298.00" y2="617.38" stroke="#1c1c1c" stroke-width="1.0"/>
<text x="293.80" y="620.46" font-size="8.6" text-anchor="end" font-weight="normal" font-style="normal" fill="#000">1</text>
<line x1="294.80" y1="597.47" x2="298.00" y2="597.47" stroke="#1c1c1c" stroke-width="1.0"/>
<text x="293.80" y="600.55" font-size="8.6" text-anchor="end" font-weight="normal" font-style="normal" fill="#000">2</text>
<line x1="294.80" y1="577.55" x2="298.00" y2="577.55" stroke="#1c1c1c" stroke-width="1.0"/>
<text x="293.80" y="580.63" font-size="8.6" text-anchor="end" font-weight="normal" font-style="normal" fill="#000">3</text>
<line x1="294.80" y1="557.63" x2="298.00" y2="557.63" stroke="#1c1c1c" stroke-width="1.0"/>
<text x="293.80" y="560.71" font-size="8.6" text-anchor="end" font-weight="normal" font-style="normal" fill="#000">4</text>
<line x1="294.80" y1="537.72" x2="298.00" y2="537.72" stroke="#1c1c1c" stroke-width="1.0"/>
<text x="293.80" y="540.80" font-size="8.6" text-anchor="end" font-weight="normal" font-style="normal" fill="#000">5</text>
<line x1="294.80" y1="517.80" x2="298.00" y2="517.80" stroke="#1c1c1c" stroke-width="1.0"/>
<text x="293.80" y="520.88" font-size="8.6" text-anchor="end" font-weight="normal" font-style="normal" fill="#000">6</text>
<line x1="323.90" y1="637.30" x2="323.90" y2="640.50" stroke="#1c1c1c" stroke-width="1.0"/>
<line x1="362.65" y1="637.30" x2="362.65" y2="640.50" stroke="#1c1c1c" stroke-width="1.0"/>
<text x="343.80" y="504.40" font-size="12.3" text-anchor="middle" font-weight="bold" font-style="italic" fill="#111">GADD45</text>
<text transform="translate(270.60,576.30) rotate(-90)" x="0" y="3.40" font-size="9.5" text-anchor="middle" font-weight="normal" font-style="normal" fill="#000">Relative mRNA expression</text>
<text transform="translate(281.30,576.30) rotate(-90)" x="0" y="3.40" font-size="9.5" text-anchor="middle" font-weight="normal" font-style="normal" fill="#000">normalized to GAPDH</text>
<text x="323.90" y="649.81" font-size="8.4" text-anchor="middle" font-weight="normal" font-style="normal" fill="#000">Control</text>
<text x="362.65" y="649.81" font-size="8.4" text-anchor="middle" font-weight="normal" font-style="normal" fill="#000">10 <tspan font-family='"Liberation Serif", "DejaVu Serif", serif' font-size="0.98em" dy="0.9">μ</tspan><tspan dy="-0.9">M</tspan></text>
<text x="363.30" y="664.02" font-size="9" text-anchor="middle" font-weight="normal" font-style="normal" fill="#000">IS20</text>
<text x="362.50" y="527.23" font-size="11" letter-spacing="0" text-anchor="middle" font-weight="bold" fill="#0a0a0a">*</text>
<rect x="159.50" y="762.20" width="23.50" height="56.50" fill="#5656f4"/>
<rect x="195.00" y="735.50" width="23.50" height="83.20" fill="#5656f4"/>
<line x1="206.75" y1="735.50" x2="206.75" y2="712.50" stroke="#1e1e1e" stroke-width="0.95"/>
<line x1="201.25" y1="712.50" x2="212.25" y2="712.50" stroke="#1e1e1e" stroke-width="0.95"/>
<line x1="148.00" y1="704.60" x2="148.00" y2="819.10" stroke="#1c1c1c" stroke-width="1.0"/>
<line x1="147.60" y1="818.70" x2="230.50" y2="818.70" stroke="#1c1c1c" stroke-width="1.0"/>
<line x1="144.80" y1="818.70" x2="148.00" y2="818.70" stroke="#1c1c1c" stroke-width="1.0"/>
<text x="143.80" y="821.64" font-size="8.2" text-anchor="end" font-weight="normal" font-style="normal" fill="#000">0.0</text>
<line x1="144.80" y1="790.28" x2="148.00" y2="790.28" stroke="#1c1c1c" stroke-width="1.0"/>
<text x="143.80" y="793.21" font-size="8.2" text-anchor="end" font-weight="normal" font-style="normal" fill="#000">0.5</text>
<line x1="144.80" y1="761.85" x2="148.00" y2="761.85" stroke="#1c1c1c" stroke-width="1.0"/>
<text x="143.80" y="764.79" font-size="8.2" text-anchor="end" font-weight="normal" font-style="normal" fill="#000">1.0</text>
<line x1="144.80" y1="733.42" x2="148.00" y2="733.42" stroke="#1c1c1c" stroke-width="1.0"/>
<text x="143.80" y="736.36" font-size="8.2" text-anchor="end" font-weight="normal" font-style="normal" fill="#000">1.5</text>
<line x1="144.80" y1="705.00" x2="148.00" y2="705.00" stroke="#1c1c1c" stroke-width="1.0"/>
<text x="143.80" y="707.94" font-size="8.2" text-anchor="end" font-weight="normal" font-style="normal" fill="#000">2.0</text>
<line x1="171.25" y1="818.70" x2="171.25" y2="821.90" stroke="#1c1c1c" stroke-width="1.0"/>
<line x1="206.75" y1="818.70" x2="206.75" y2="821.90" stroke="#1c1c1c" stroke-width="1.0"/>
<text x="188.70" y="692.49" font-size="11.7" text-anchor="middle" font-weight="bold" font-style="normal" fill="#111">cyclin E1</text>
<text transform="translate(125.70,760.50) rotate(-90)" x="0" y="3.26" font-size="9.1" text-anchor="middle" font-weight="normal" font-style="normal" fill="#000">Relative density/vinculin</text>
<text x="171.25" y="830.16" font-size="8.0" text-anchor="middle" font-weight="normal" font-style="normal" fill="#000">Control</text>
<text x="206.75" y="830.16" font-size="8.0" text-anchor="middle" font-weight="normal" font-style="normal" fill="#000">10 <tspan font-family='"Liberation Serif", "DejaVu Serif", serif' font-size="0.98em" dy="0.9">μ</tspan><tspan dy="-0.9">M</tspan></text>
<text x="206.30" y="841.19" font-size="8.9" text-anchor="middle" font-weight="normal" font-style="normal" fill="#000">IS20</text>
<text x="207.10" y="713.63" font-size="11" letter-spacing="0.6" text-anchor="middle" font-weight="bold" fill="#0a0a0a">**</text>
<rect x="323.50" y="762.00" width="23.50" height="56.60" fill="#5656f4"/>
<rect x="358.50" y="725.00" width="23.80" height="93.60" fill="#5656f4"/>
<line x1="370.40" y1="725.00" x2="370.40" y2="705.50" stroke="#1e1e1e" stroke-width="0.95"/>
<line x1="364.90" y1="705.50" x2="375.90" y2="705.50" stroke="#1e1e1e" stroke-width="0.95"/>
<line x1="311.80" y1="704.60" x2="311.80" y2="819.00" stroke="#1c1c1c" stroke-width="1.0"/>
<line x1="311.40" y1="818.60" x2="394.00" y2="818.60" stroke="#1c1c1c" stroke-width="1.0"/>
<line x1="308.60" y1="818.60" x2="311.80" y2="818.60" stroke="#1c1c1c" stroke-width="1.0"/>
<text x="307.60" y="821.54" font-size="8.2" text-anchor="end" font-weight="normal" font-style="normal" fill="#000">0.0</text>
<line x1="308.60" y1="790.20" x2="311.80" y2="790.20" stroke="#1c1c1c" stroke-width="1.0"/>
<text x="307.60" y="793.14" font-size="8.2" text-anchor="end" font-weight="normal" font-style="normal" fill="#000">0.5</text>
<line x1="308.60" y1="761.80" x2="311.80" y2="761.80" stroke="#1c1c1c" stroke-width="1.0"/>
<text x="307.60" y="764.74" font-size="8.2" text-anchor="end" font-weight="normal" font-style="normal" fill="#000">1.0</text>
<line x1="308.60" y1="733.40" x2="311.80" y2="733.40" stroke="#1c1c1c" stroke-width="1.0"/>
<text x="307.60" y="736.34" font-size="8.2" text-anchor="end" font-weight="normal" font-style="normal" fill="#000">1.5</text>
<line x1="308.60" y1="705.00" x2="311.80" y2="705.00" stroke="#1c1c1c" stroke-width="1.0"/>
<text x="307.60" y="707.94" font-size="8.2" text-anchor="end" font-weight="normal" font-style="normal" fill="#000">2.0</text>
<line x1="335.25" y1="818.60" x2="335.25" y2="821.80" stroke="#1c1c1c" stroke-width="1.0"/>
<line x1="370.40" y1="818.60" x2="370.40" y2="821.80" stroke="#1c1c1c" stroke-width="1.0"/>
<text x="352.70" y="692.49" font-size="11.7" text-anchor="middle" font-weight="bold" font-style="normal" fill="#111">cdc2</text>
<text transform="translate(289.50,760.50) rotate(-90)" x="0" y="3.26" font-size="9.1" text-anchor="middle" font-weight="normal" font-style="normal" fill="#000">Relative density/vinculin</text>
<text x="335.25" y="830.16" font-size="8.0" text-anchor="middle" font-weight="normal" font-style="normal" fill="#000">Control</text>
<text x="370.40" y="830.16" font-size="8.0" text-anchor="middle" font-weight="normal" font-style="normal" fill="#000">10 <tspan font-family='"Liberation Serif", "DejaVu Serif", serif' font-size="0.98em" dy="0.9">μ</tspan><tspan dy="-0.9">M</tspan></text>
<text x="369.80" y="841.19" font-size="8.9" text-anchor="middle" font-weight="normal" font-style="normal" fill="#000">IS20</text>
<text x="370.00" y="705.83" font-size="11" letter-spacing="0" text-anchor="middle" font-weight="bold" fill="#0a0a0a">*</text>
<rect x="491.00" y="813.30" width="23.50" height="5.30" fill="#5656f4"/>
<rect x="526.00" y="741.00" width="23.80" height="77.60" fill="#5656f4"/>
<line x1="537.90" y1="741.00" x2="537.90" y2="714.50" stroke="#1e1e1e" stroke-width="0.95"/>
<line x1="532.40" y1="714.50" x2="543.40" y2="714.50" stroke="#1e1e1e" stroke-width="0.95"/>
<line x1="479.30" y1="704.60" x2="479.30" y2="819.00" stroke="#1c1c1c" stroke-width="1.0"/>
<line x1="478.90" y1="818.60" x2="561.80" y2="818.60" stroke="#1c1c1c" stroke-width="1.0"/>
<line x1="476.10" y1="818.60" x2="479.30" y2="818.60" stroke="#1c1c1c" stroke-width="1.0"/>
<text x="475.10" y="821.54" font-size="8.2" text-anchor="end" font-weight="normal" font-style="normal" fill="#000">0</text>
<line x1="476.10" y1="807.24" x2="479.30" y2="807.24" stroke="#1c1c1c" stroke-width="1.0"/>
<text x="475.10" y="810.18" font-size="8.2" text-anchor="end" font-weight="normal" font-style="normal" fill="#000">2</text>
<line x1="476.10" y1="795.88" x2="479.30" y2="795.88" stroke="#1c1c1c" stroke-width="1.0"/>
<text x="475.10" y="798.82" font-size="8.2" text-anchor="end" font-weight="normal" font-style="normal" fill="#000">4</text>
<line x1="476.10" y1="784.52" x2="479.30" y2="784.52" stroke="#1c1c1c" stroke-width="1.0"/>
<text x="475.10" y="787.46" font-size="8.2" text-anchor="end" font-weight="normal" font-style="normal" fill="#000">6</text>
<line x1="476.10" y1="773.16" x2="479.30" y2="773.16" stroke="#1c1c1c" stroke-width="1.0"/>
<text x="475.10" y="776.10" font-size="8.2" text-anchor="end" font-weight="normal" font-style="normal" fill="#000">8</text>
<line x1="476.10" y1="761.80" x2="479.30" y2="761.80" stroke="#1c1c1c" stroke-width="1.0"/>
<text x="475.10" y="764.74" font-size="8.2" text-anchor="end" font-weight="normal" font-style="normal" fill="#000">10</text>
<line x1="476.10" y1="750.44" x2="479.30" y2="750.44" stroke="#1c1c1c" stroke-width="1.0"/>
<text x="475.10" y="753.38" font-size="8.2" text-anchor="end" font-weight="normal" font-style="normal" fill="#000">12</text>
<line x1="476.10" y1="739.08" x2="479.30" y2="739.08" stroke="#1c1c1c" stroke-width="1.0"/>
<text x="475.10" y="742.02" font-size="8.2" text-anchor="end" font-weight="normal" font-style="normal" fill="#000">14</text>
<line x1="476.10" y1="727.72" x2="479.30" y2="727.72" stroke="#1c1c1c" stroke-width="1.0"/>
<text x="475.10" y="730.66" font-size="8.2" text-anchor="end" font-weight="normal" font-style="normal" fill="#000">16</text>
<line x1="476.10" y1="716.36" x2="479.30" y2="716.36" stroke="#1c1c1c" stroke-width="1.0"/>
<text x="475.10" y="719.30" font-size="8.2" text-anchor="end" font-weight="normal" font-style="normal" fill="#000">18</text>
<line x1="476.10" y1="705.00" x2="479.30" y2="705.00" stroke="#1c1c1c" stroke-width="1.0"/>
<text x="475.10" y="707.94" font-size="8.2" text-anchor="end" font-weight="normal" font-style="normal" fill="#000">20</text>
<line x1="502.75" y1="818.60" x2="502.75" y2="821.80" stroke="#1c1c1c" stroke-width="1.0"/>
<line x1="537.90" y1="818.60" x2="537.90" y2="821.80" stroke="#1c1c1c" stroke-width="1.0"/>
<text x="520.00" y="692.49" font-size="11.7" text-anchor="middle" font-weight="bold" font-style="normal" fill="#111">p21</text>
<text transform="translate(458.70,760.50) rotate(-90)" x="0" y="3.26" font-size="9.1" text-anchor="middle" font-weight="normal" font-style="normal" fill="#000">Relative density/vinculin</text>
<text x="502.75" y="830.16" font-size="8.0" text-anchor="middle" font-weight="normal" font-style="normal" fill="#000">Control</text>
<text x="537.90" y="830.16" font-size="8.0" text-anchor="middle" font-weight="normal" font-style="normal" fill="#000">10 <tspan font-family='"Liberation Serif", "DejaVu Serif", serif' font-size="0.98em" dy="0.9">μ</tspan><tspan dy="-0.9">M</tspan></text>
<text x="537.80" y="841.19" font-size="8.9" text-anchor="middle" font-weight="normal" font-style="normal" fill="#000">IS20</text>
<text x="538.10" y="714.63" font-size="11" letter-spacing="0.6" text-anchor="middle" font-weight="bold" fill="#0a0a0a">**</text>
<text x="549.30" y="448.78" font-size="12.5" text-anchor="middle" font-weight="normal" font-style="normal" fill="#000">Control</text>
<text x="591.00" y="443.58" font-size="12.5" text-anchor="middle" font-weight="normal" font-style="normal" fill="#000">IS20</text>
<text x="592.30" y="456.78" font-size="12.5" text-anchor="middle" font-weight="normal" font-style="normal" fill="#000">10 µM</text>
<text x="640.80" y="447.78" font-size="12.5" text-anchor="middle" font-weight="normal" font-style="normal" fill="#000">Mass</text>
<text x="640.60" y="461.58" font-size="12.5" text-anchor="middle" font-weight="normal" font-style="normal" fill="#000">kDa</text>
<clipPath id="c7"><rect x="524.90" y="462.00" width="90.00" height="35.50"/></clipPath>
<rect x="524.90" y="462.00" width="90.00" height="35.50" fill="url(#bg)"/>
<g clip-path="url(#c7)">
<rect x="527.00" y="473.00" width="86.00" height="20.00" rx="10.00" fill="#999" opacity="0.32" filter="url(#b3)"/>
<rect x="532.00" y="478.10" width="32.50" height="5.00" rx="2.50" fill="#4a4a4a" opacity="0.62" filter="url(#b2)"/>
<rect x="532.20" y="476.40" width="9.80" height="5.20" rx="2.60" fill="#1a1a1a" opacity="0.75" filter="url(#b2)"/>
<rect x="531.50" y="481.50" width="33.00" height="10.00" rx="5.00" fill="#888" opacity="0.42" filter="url(#b3)"/>
<rect x="573.00" y="478.40" width="37.60" height="7.60" rx="3.80" fill="#000" opacity="0.95" filter="url(#b2)"/>
<rect x="576.00" y="480.80" width="32.00" height="3.60" rx="1.80" fill="#000" opacity="0.6" filter="url(#b1)"/>
<rect x="572.80" y="475.95" width="14.20" height="6.50" rx="3.25" fill="#000" opacity="0.75" filter="url(#b2)"/>
<rect x="573.00" y="482.50" width="38.00" height="10.00" rx="5.00" fill="#555" opacity="0.5" filter="url(#b3)"/>
</g>
<rect x="524.90" y="462.00" width="90.00" height="35.50" fill="none" stroke="#2a2a2a" stroke-width="0.8"/>
<clipPath id="c8"><rect x="524.90" y="500.60" width="90.00" height="25.00"/></clipPath>
<rect x="524.90" y="500.60" width="90.00" height="25.00" fill="#f0f0f0"/>
<g clip-path="url(#c8)">
<rect x="526.00" y="505.00" width="88.00" height="18.00" rx="9.00" fill="#999" opacity="0.3" filter="url(#b3)"/>
<rect x="530.20" y="508.00" width="40.20" height="12.60" rx="4.50" fill="#000" opacity="1" filter="url(#b1)"/>
<rect x="531.20" y="509.00" width="38.20" height="10.60" rx="4.00" fill="#000" opacity="1" filter="url(#b0)"/>
<rect x="574.70" y="508.80" width="38.30" height="9.60" rx="4.80" fill="#000" opacity="1" filter="url(#b1)"/>
<rect x="575.70" y="509.80" width="35.30" height="7.60" rx="3.80" fill="#000" opacity="1" filter="url(#b0)"/>
</g>
<rect x="524.90" y="500.60" width="90.00" height="25.00" fill="none" stroke="#2a2a2a" stroke-width="0.8"/>
<clipPath id="c9"><rect x="524.90" y="528.40" width="90.00" height="30.90"/></clipPath>
<rect x="524.90" y="528.40" width="90.00" height="30.90" fill="url(#bg)"/>
<g clip-path="url(#c9)">
<rect x="528.00" y="537.00" width="84.00" height="14.00" rx="7.00" fill="#aaa" opacity="0.28" filter="url(#b3)"/>
<rect x="532.80" y="541.20" width="30.60" height="5.20" rx="2.60" fill="#555" opacity="0.55" filter="url(#b2)"/>
<rect x="533.00" y="539.70" width="9.00" height="5.80" rx="2.90" fill="#1a1a1a" opacity="0.75" filter="url(#b2)"/>
<rect x="552.00" y="542.00" width="10.80" height="4.80" rx="2.40" fill="#444" opacity="0.35" filter="url(#b2)"/>
<rect x="575.00" y="540.20" width="34.20" height="5.60" rx="2.80" fill="#333" opacity="0.62" filter="url(#b2)"/>
<rect x="575.20" y="538.30" width="10.80" height="6.20" rx="3.10" fill="#0a0a0a" opacity="0.9" filter="url(#b2)"/>
<rect x="591.00" y="540.70" width="16.80" height="5.20" rx="2.60" fill="#222" opacity="0.4" filter="url(#b2)"/>
</g>
<rect x="524.90" y="528.40" width="90.00" height="30.90" fill="none" stroke="#2a2a2a" stroke-width="0.8"/>
<clipPath id="c10"><rect x="524.90" y="562.50" width="90.00" height="23.90"/></clipPath>
<rect x="524.90" y="562.50" width="90.00" height="23.90" fill="#f2f2f2"/>
<g clip-path="url(#c10)">
<rect x="526.00" y="567.00" width="88.00" height="16.00" rx="8.00" fill="#999" opacity="0.38" filter="url(#b3)"/>
<rect x="528.00" y="572.10" width="38.60" height="6.80" rx="3.40" fill="#000" opacity="1" filter="url(#b1)"/>
<rect x="529.20" y="573.20" width="36.30" height="4.60" rx="2.30" fill="#000" opacity="1" filter="url(#b0)"/>
<rect x="542.00" y="570.90" width="24.60" height="8.20" rx="4.10" fill="#000" opacity="1" filter="url(#b1)"/>
<rect x="568.60" y="569.60" width="40.60" height="9.60" rx="4.80" fill="#000" opacity="1" filter="url(#b1)"/>
<rect x="569.80" y="570.60" width="38.20" height="7.60" rx="3.80" fill="#000" opacity="1" filter="url(#b0)"/>
<rect x="590.00" y="568.20" width="19.60" height="11.60" rx="5.80" fill="#000" opacity="1" filter="url(#b1)"/>
</g>
<rect x="524.90" y="562.50" width="90.00" height="23.90" fill="none" stroke="#2a2a2a" stroke-width="0.8"/>
<clipPath id="c11"><rect x="524.90" y="589.50" width="90.00" height="30.50"/></clipPath>
<rect x="524.90" y="589.50" width="90.00" height="30.50" fill="#f2f2f2"/>
<g clip-path="url(#c11)">
<rect x="571.80" y="599.60" width="35.10" height="12.40" rx="6.20" fill="#000" opacity="1" filter="url(#b1)"/>
<rect x="572.80" y="600.60" width="33.10" height="10.40" rx="5.20" fill="#000" opacity="1" filter="url(#b0)"/>
<rect x="572.00" y="598.30" width="12.00" height="11.00" rx="5.50" fill="#000" opacity="1" filter="url(#b1)"/>
<rect x="551.20" y="592.50" width="1.60" height="1.60" rx="0.80" fill="#333" opacity="0.9" filter="url(#b0)"/>
<rect x="577.20" y="592.00" width="1.60" height="1.60" rx="0.80" fill="#222" opacity="0.9" filter="url(#b0)"/>
<rect x="587.00" y="595.40" width="1.60" height="1.60" rx="0.80" fill="#222" opacity="0.9" filter="url(#b0)"/>
<rect x="600.80" y="594.10" width="1.80" height="1.80" rx="0.90" fill="#111" opacity="0.9" filter="url(#b0)"/>
<rect x="547.30" y="614.60" width="1.90" height="1.80" rx="0.90" fill="#666" opacity="0.8" filter="url(#b0)"/>
<rect x="540.80" y="598.20" width="1.60" height="1.60" rx="0.80" fill="#666" opacity="0.8" filter="url(#b0)"/>
</g>
<rect x="524.90" y="589.50" width="90.00" height="30.50" fill="none" stroke="#2a2a2a" stroke-width="0.8"/>
<clipPath id="c12"><rect x="524.90" y="623.80" width="90.00" height="22.80"/></clipPath>
<rect x="524.90" y="623.80" width="90.00" height="22.80" fill="#ececec"/>
<g clip-path="url(#c12)">
<rect x="526.00" y="626.00" width="88.00" height="20.00" rx="10.00" fill="#777" opacity="0.4" filter="url(#b3)"/>
<rect x="528.80" y="629.20" width="41.60" height="14.20" rx="5.00" fill="#000" opacity="1" filter="url(#b1)"/>
<rect x="529.80" y="630.20" width="39.60" height="12.20" rx="4.50" fill="#000" opacity="1" filter="url(#b0)"/>
<rect x="574.70" y="630.10" width="40.30" height="11.00" rx="5.50" fill="#000" opacity="1" filter="url(#b1)"/>
<rect x="575.70" y="631.10" width="38.30" height="9.00" rx="4.50" fill="#000" opacity="1" filter="url(#b0)"/>
</g>
<rect x="524.90" y="623.80" width="90.00" height="22.80" fill="none" stroke="#2a2a2a" stroke-width="0.8"/>
<text x="515.90" y="483.44" font-size="12.4" text-anchor="end" font-weight="normal" font-style="normal" fill="#000">cyclin E1</text>
<text x="515.90" y="516.34" font-size="12.4" text-anchor="end" font-weight="normal" font-style="normal" fill="#000">vinculin</text>
<text x="515.90" y="547.34" font-size="12.4" text-anchor="end" font-weight="normal" font-style="normal" fill="#000">cdc2</text>
<text x="515.90" y="578.24" font-size="12.4" text-anchor="end" font-weight="normal" font-style="normal" fill="#000">vinculin</text>
<text x="515.90" y="638.14" font-size="12.4" text-anchor="end" font-weight="normal" font-style="normal" fill="#000">vinculin</text>
<text x="516.3" y="611.64" font-size="12.4" text-anchor="end" fill="#000">p21<tspan font-size="6.5" dy="-4.9" dx="0.6" fill="#2a2a2a">WAF1/CIP1</tspan></text>
<text x="641.00" y="483.17" font-size="12.2" text-anchor="middle" font-weight="normal" font-style="normal" fill="#000">48</text>
<text x="643.60" y="515.67" font-size="12.2" text-anchor="middle" font-weight="normal" font-style="normal" fill="#000">124</text>
<text x="641.20" y="547.37" font-size="12.2" text-anchor="middle" font-weight="normal" font-style="normal" fill="#000">34</text>
<text x="643.60" y="578.97" font-size="12.2" text-anchor="middle" font-weight="normal" font-style="normal" fill="#000">124</text>
<text x="641.00" y="608.17" font-size="12.2" text-anchor="middle" font-weight="normal" font-style="normal" fill="#000">21</text>
<text x="643.60" y="638.97" font-size="12.2" text-anchor="middle" font-weight="normal" font-style="normal" fill="#000">124</text>
</svg>
</body>
</html>
